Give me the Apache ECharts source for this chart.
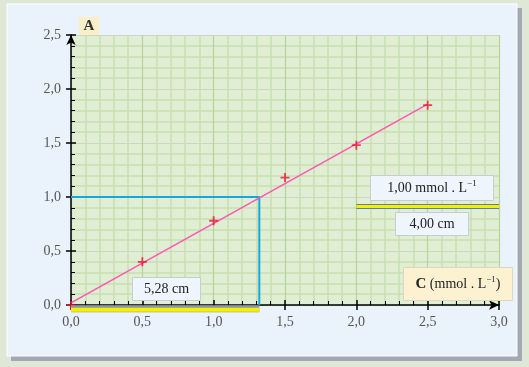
<!DOCTYPE html>
<html><head><meta charset="utf-8">
<script src="https://cdn.jsdelivr.net/npm/echarts@6/dist/echarts.min.js"></script>
<style>html,body{margin:0;padding:0;background:#dfe8d6;}#c{width:529px;height:367px;}</style>
</head><body><div id="c"></div>
<script>
// Data
const concX = [0, 0.5, 1.0, 1.5, 2.0, 2.5];
const measY = [0.0, 0.40, 0.78, 1.18, 1.48, 1.85];
const fitLine = [[0, 0.02], [2.5, 1.86]];
const readLine = [[0, 1.0], [1.32, 1.0], [1.32, 0]];
const barLeft = [[0, -0.035], [1.32, -0.035]];
const barRight = [[2.0, 0.912], [3.0, 0.912]];
const xTicks = ['0,0','0,5','1,0','1,5','2,0','2,5','3,0'];

const chart = echarts.init(document.getElementById('c'), null, {renderer:'canvas'});
const fmt = v => v.toFixed(1).replace('.', ',');
const serif = '"Liberation Serif", "DejaVu Serif", serif';
const labelStyle = {color:'#555', fontFamily: serif, fontSize: 14};
const plus = 'path://M3.2,0 H4.8 V3.2 H8 V4.8 H4.8 V8 H3.2 V4.8 H0 V3.2 H3.2 Z';

const gridL = 71, gridR = 30, gridT = 35, gridB = 62;

function box(x, y, w, h, fill, stroke, text, rich) {
  return {
    type: 'group', left: x, top: y, z: 100, zlevel: 1,
    children: [
      {type:'rect', z: 100, zlevel: 1, shape:{x:0,y:0,width:w,height:h}, style:{fill:fill, stroke:stroke, lineWidth:1}},
      {type:'text', z: 101, zlevel: 1, style:{x:w/2, y:h/2, text:text, align:'center', verticalAlign:'middle',
        font: '14px ' + serif, fill:'#222', rich: rich || {}}}
    ]
  };
}
const sup = {fontSize:9, verticalAlign:'top', padding:[0,0,8,0], fontFamily: serif, fill:'#222'};

const option = {
  animation: false,
  backgroundColor: 'transparent',
  graphic: [
    {type:'rect', z:-10, shape:{x:11,y:8,width:511,height:353}, style:{fill:'#a3a9b3'}},
    {type:'rect', z:-9, shape:{x:7,y:4,width:510,height:352}, style:{fill:'#eaf2fb', stroke:'#ffffff', lineWidth:1}},
    box(79, 17, 20, 18, '#fbefc8', null, '{b|A}', {b:{fontWeight:'bold', fontFamily: serif, fontSize:15, fill:'#333'}}),
    box(132, 277, 68, 23, '#eef5fc', '#c8ccd0', '5,28 cm'),
    box(370, 175, 123, 25, '#eef5fc', '#c8ccd0', '{n|1,00 mmol . L}{s|−1}', {n:{fontFamily: serif, fontSize:14, fill:'#222'}, s: sup}),
    box(395, 212, 73, 23, '#eef5fc', '#c8ccd0', '4,00 cm'),
    box(403, 267, 109, 33, '#fcf2d2', '#ddd6c0', '{b|C}{n| (mmol . L}{s|−1}{n|)}', {b:{fontWeight:'bold', fontSize:15, fontFamily: serif, fill:'#222'}, n:{fontFamily: serif, fontSize:14, fill:'#222'}, s: sup})
  ],
  grid: {left: gridL, right: gridR, top: gridT, bottom: gridB, show: true, backgroundColor: '#e0eed3', borderWidth: 0},
  xAxis: [{
    type: 'value', min: 0, max: 3, interval: 0.5,
    axisLine: {show: true, lineStyle:{color:'#000', width:1.5}, symbol:['none','arrow'], symbolSize:[7,10]},
    axisTick: {show: true, inside: false, length: 5, lineStyle:{color:'#000', width:1.5}},
    minorTick: {show: false},
    axisLabel: {formatter: (v) => xTicks[Math.round(v*2)], margin: 10, ...labelStyle},
    splitLine: {show: true, lineStyle:{color:'#b7d49b', width:1.2}},
    minorSplitLine: {show: true, lineStyle:{color:'#c7e0b1', width:1.5}}
  }, {
    type: 'value', min: 0, max: 3, interval: 0.5, position: 'bottom',
    axisLine: {show: false},
    axisTick: {show: true, inside: true, length: 5, lineStyle:{color:'#000', width:1.5}},
    minorTick: {show: true, splitNumber: 5, length: 4, lineStyle:{color:'#000', width:1}},
    axisLabel: {show: false}, splitLine: {show: false}
  }],
  yAxis: [{
    type: 'value', min: 0, max: 2.5, interval: 0.5,
    axisLine: {show: true, lineStyle:{color:'#000', width:1.5}, symbol:['none','arrow'], symbolSize:[7,10]},
    axisTick: {show: true, inside: false, length: 5, lineStyle:{color:'#000', width:1.5}},
    minorTick: {show: false},
    axisLabel: {formatter: fmt, margin: 10, ...labelStyle},
    splitLine: {show: true, lineStyle:{color:'#cdd6c4', width:1.2}},
    minorSplitLine: {show: true, lineStyle:{color:'#c7e0b1', width:1.5}}
  }, {
    type: 'value', min: 0, max: 2.5, interval: 0.5, position: 'left',
    axisLine: {show: false},
    axisTick: {show: true, inside: true, length: 5, lineStyle:{color:'#000', width:1.5}},
    minorTick: {show: true, splitNumber: 5, length: 4, lineStyle:{color:'#000', width:1}},
    axisLabel: {show: false}, splitLine: {show: false}
  }],
  series: [
    {type:'line', data: readLine, symbol:'none', lineStyle:{color:'#17a6e4', width:2}, z:3},
    {type:'line', data: fitLine, symbol:'none', lineStyle:{color:'#ff55b4', width:1.5}, z:4},
    {type:'scatter', data: concX.map((x,i)=>[x, measY[i]]), symbol: plus, symbolSize: 9, itemStyle:{color:'#ee1133'}, z:5},
    {type:'line', data: barLeft, symbol:'none', clip:false, lineStyle:{color:'#8f96a4', width:7, cap:'butt'}, z:6},
    {type:'line', data: barLeft.map(p=>[p[0], p[1]-0.008]), symbol:'none', clip:false, lineStyle:{color:'#f4f000', width:4, cap:'butt'}, z:7},
    {type:'line', data: barRight, symbol:'none', clip:false, lineStyle:{color:'#5f7fa8', width:5, cap:'butt'}, z:6},
    {type:'line', data: barRight, symbol:'none', clip:false, lineStyle:{color:'#f4f000', width:3, cap:'butt'}, z:7}
  ]
};
chart.setOption(option);
</script></body></html>
